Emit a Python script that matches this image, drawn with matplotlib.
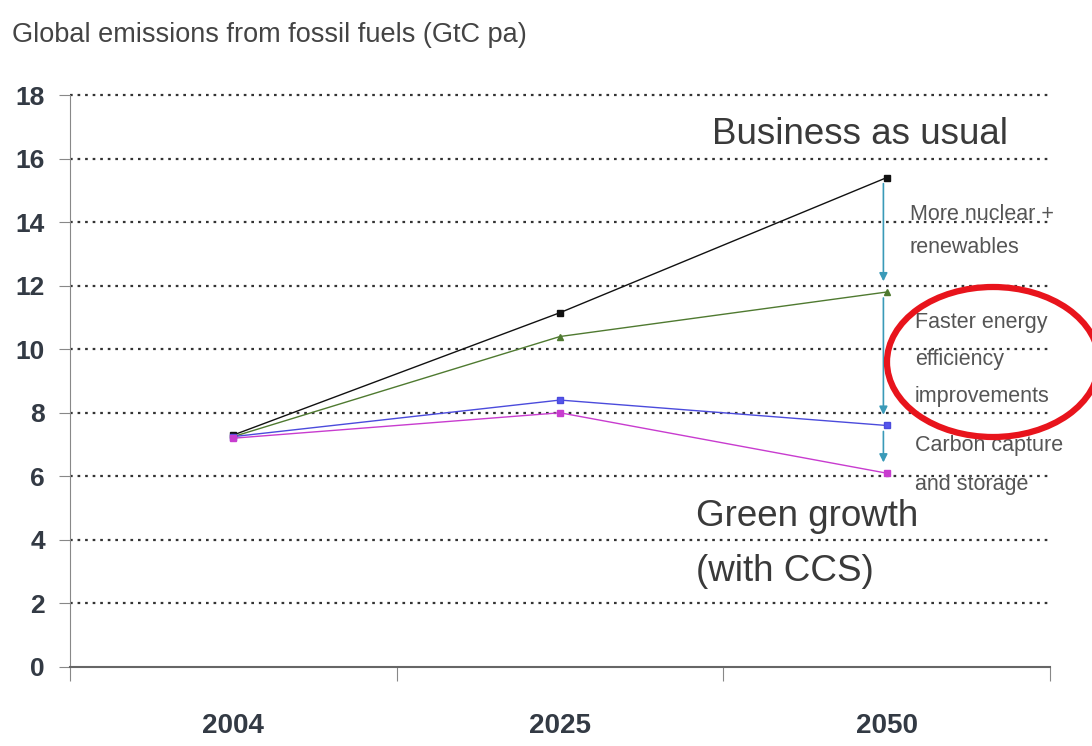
import matplotlib
matplotlib.use("Agg")
import matplotlib.pyplot as plt
from matplotlib.patches import Ellipse

years = ["2004", "2025", "2050"]
bau = [7.3, 11.15, 15.4]
nuclear = [7.25, 10.4, 11.8]
efficiency = [7.25, 8.4, 7.6]
ccs = [7.2, 8.0, 6.1]
yticks = [0, 2, 4, 6, 8, 10, 12, 14, 16, 18]

plt.rcParams["font.family"] = ["Liberation Sans", "DejaVu Sans"]

fig = plt.figure(figsize=(10.92, 7.46), dpi=100)
ax = fig.add_axes([70/1092, 1-667/746, (1050-70)/1092, (667-95)/746])

x = list(range(len(years)))
ax.set_xlim(-0.5, 2.5)
ax.set_ylim(0, 18)

for yv in yticks[1:]:
    ax.axhline(yv, color="#333333", lw=1.6, ls=(0, (1.2, 2.2)), zorder=1, clip_on=False)

ax.plot(x, bau, color="#111111", lw=1.0, marker="s", ms=5, zorder=3)
ax.plot(x, nuclear, color="#4f7a30", lw=1.0, marker="^", ms=5, zorder=3)
ax.plot(x, efficiency, color="#4b4bdc", lw=1.0, marker="s", ms=5, mfc="#5555ee", zorder=3)
ax.plot(x, ccs, color="#c83ccf", lw=1.0, marker="s", ms=5, zorder=3)

# arrows
ac = "#3a9ab8"
xa = 1.99
for y0, y1 in [(bau[2], nuclear[2]), (nuclear[2], efficiency[2]), (efficiency[2], ccs[2])]:
    ax.annotate("", xy=(xa, y1 + 0.25), xytext=(xa, y0 - 0.1),
                arrowprops=dict(arrowstyle="-|>", color=ac, lw=1.2, mutation_scale=12), zorder=2)

tc = "#555555"
ax.text(2.071, 13.72, "More nuclear +\nrenewables", fontsize=15.5, color=tc, va="center", ha="left", linespacing=1.8)
ax.text(2.087, 9.67, "Faster energy\nefficiency\nimprovements", fontsize=15.5, color=tc, va="center", ha="left", linespacing=2.0)
ax.text(2.087, 6.35, "Carbon capture\nand storage", fontsize=15.5, color=tc, va="center", ha="left", linespacing=2.1)

ax.text(1.465, 16.75, "Business as usual", fontsize=26.5, color="#3a3a3a", va="center", ha="left")
ax.text(1.415, 3.87, "Green growth\n(with CCS)", fontsize=26.5, color="#3a3a3a", va="center", ha="left", linespacing=1.75)

# red ellipse in figure coords
ell = Ellipse((993/1092, 1-362/746), 212/1092, 150/746, transform=fig.transFigure,
              fill=False, edgecolor="#e8141c", lw=4.5, zorder=10)
fig.patches.append(ell)

ax.spines["top"].set_visible(False)
ax.spines["right"].set_visible(False)
ax.spines["left"].set_color("#888888")
ax.spines["bottom"].set_color("#666666")
ax.spines["bottom"].set_linewidth(1.5)

ax.set_yticks(yticks)
ax.set_yticklabels([str(v) for v in yticks], fontsize=19, fontweight="bold", color="#333a44")
ax.tick_params(axis="y", direction="out", length=8, color="#888888", pad=10)

ax.set_xticks([-0.5, 0.5, 1.5, 2.5])
ax.set_xticklabels([])
ax.tick_params(axis="x", which="major", direction="out", length=10, color="#888888")
ax.set_xticks(x, minor=True)
ax.set_xticklabels(years, minor=True, fontsize=20, fontweight="bold", color="#333a44")
ax.tick_params(axis="x", which="minor", length=0, pad=33)

fig.text(12/1092, 1-35/746, "Global emissions from fossil fuels (GtC pa)", fontsize=19.5, color="#444444", va="center", ha="left")

fig.savefig("out.png", dpi=100, facecolor="white")
